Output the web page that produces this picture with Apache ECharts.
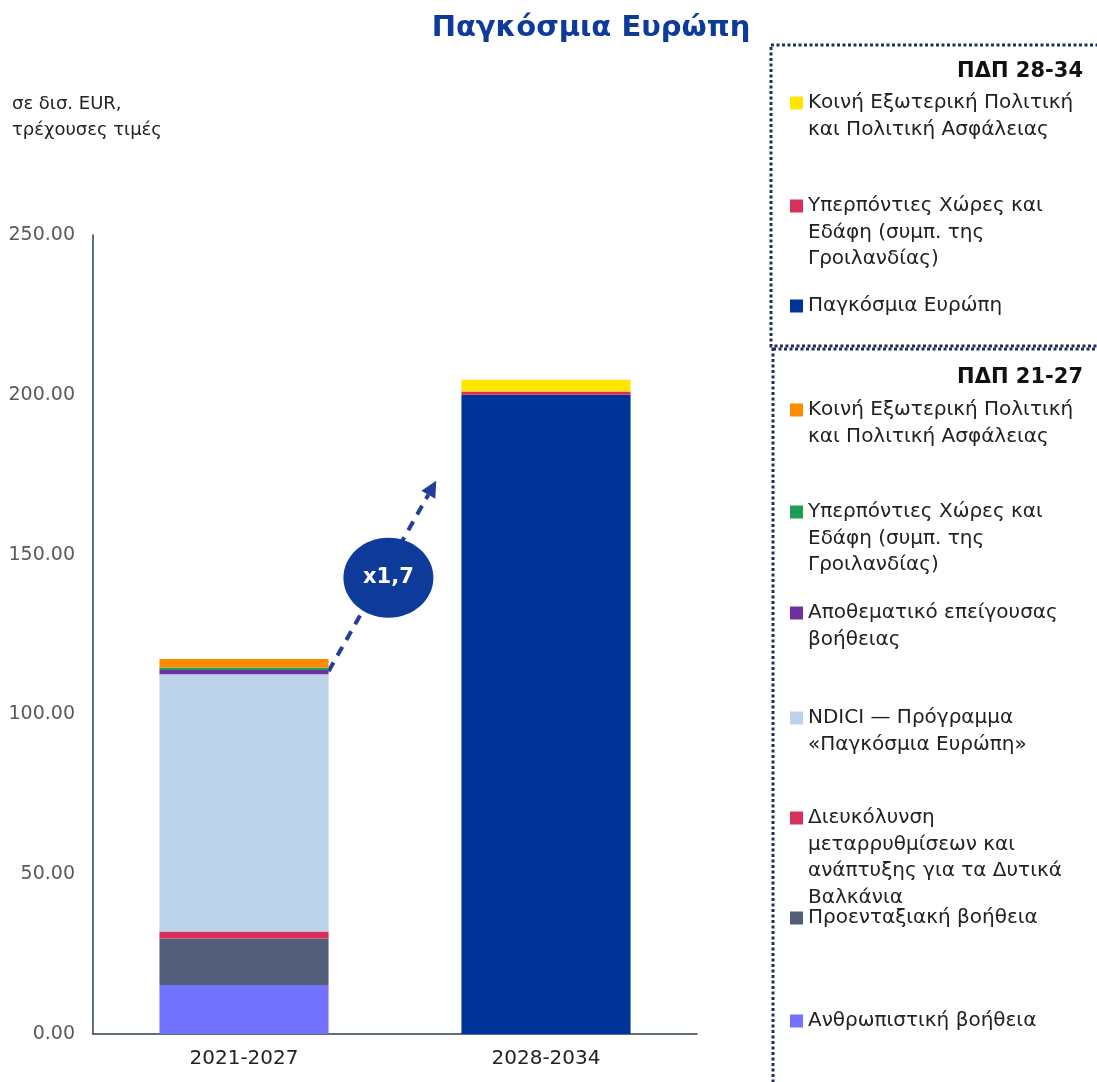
<!DOCTYPE html>
<html>
<head>
<meta charset="utf-8">
<script src="https://cdn.jsdelivr.net/npm/echarts@6/dist/echarts.min.js"></script>
<style>
html,body{margin:0;padding:0;background:#fff;}
#chart{width:1097px;height:1082px;}
</style>
</head>
<body>
<div id="chart"></div>
<script>
// ---- data ----
const categories = ['2021-2027', '2028-2034'];
const yTicks = [0, 50, 100, 150, 200, 250];

// MFF 2021-27 (stack bottom to top)
const humanitarian21 = [15.3, null];
const preAccession21 = [14.6, null];
const westernBalkans21 = [2.2, null];
const ndici21 = [80.5, null];
const emergencyReserve21 = [1.3, null];
const oct21 = [0.8, null];
const cfsp21 = [2.6, null];
// MFF 2028-34
const globalEurope28 = [null, 200.0];
const oct28 = [null, 1.0];
const cfsp28 = [null, 3.7];

const growthLabel = 'x1,7';

const seriesDefs = [
  {id: 'hum21',  data: humanitarian21,   color: '#7272FF', label: 'Ανθρωπιστική βοήθεια'},
  {id: 'pre21',  data: preAccession21,   color: '#535E78', label: 'Προενταξιακή βοήθεια'},
  {id: 'wb21',   data: westernBalkans21, color: '#D7305A', label: 'Διευκόλυνση\nμεταρρυθμίσεων και\nανάπτυξης για τα Δυτικά\nΒαλκάνια'},
  {id: 'ndici21',data: ndici21,          color: '#BDD3EA', label: 'NDICI — Πρόγραμμα\n«Παγκόσμια Ευρώπη»'},
  {id: 'esar21', data: emergencyReserve21,color: '#7030A0', label: 'Αποθεματικό επείγουσας\nβοήθειας'},
  {id: 'oct21',  data: oct21,            color: '#1E9E50', label: 'Υπερπόντιες Χώρες και\nΕδάφη (συμπ. της\nΓροιλανδίας)'},
  {id: 'cfsp21', data: cfsp21,           color: '#FF8C00', label: 'Κοινή Εξωτερική Πολιτική\nκαι Πολιτική Ασφάλειας'},
  {id: 'ge28',   data: globalEurope28,   color: '#003399', label: 'Παγκόσμια Ευρώπη'},
  {id: 'oct28',  data: oct28,            color: '#D7305A', label: 'Υπερπόντιες Χώρες και\nΕδάφη (συμπ. της\nΓροιλανδίας)'},
  {id: 'cfsp28', data: cfsp28,           color: '#FFE600', label: 'Κοινή Εξωτερική Πολιτική\nκαι Πολιτική Ασφάλειας'}
];

// legend first-line centre positions
const legendRows = {
  cfsp28: 103, oct28: 206, ge28: 306,
  cfsp21: 410, oct21: 512, esar21: 613, ndici21: 718, wb21: 818, pre21: 918, hum21: 1021
};

const FONT = 'DejaVu Sans';
const LH = 26.5;

const chart = echarts.init(document.getElementById('chart'), null, {renderer: 'canvas'});

const series = seriesDefs.map(d => ({
  type: 'bar',
  name: d.id,
  stack: 'total',
  barWidth: '56%',
  data: d.data,
  itemStyle: {color: d.color},
  emphasis: {disabled: true}
}));

const legends = seriesDefs.map(d => {
  const lines = d.label.split('\n');
  const n = lines.length;
  const padded = new Array(n - 1).fill('').concat(lines).join('\n');
  const h = (2 * n - 1) * LH;
  return {
    data: [d.id],
    left: 790,
    top: legendRows[d.id] - h / 2,
    orient: 'vertical',
    padding: 0,
    icon: 'rect',
    itemWidth: 13,
    itemHeight: 13,
    selectedMode: false,
    formatter: () => padded,
    textStyle: {fontFamily: FONT, fontSize: 20, color: '#222', lineHeight: LH}
  };
});

chart.setOption({
  animation: false,
  backgroundColor: '#fff',
  grid: {left: 93, right: 400, top: 235, bottom: 48, containLabel: false},
  legend: legends,
  xAxis: {
    type: 'category',
    data: categories,
    axisLine: {lineStyle: {color: '#2E4057', width: 1.5}},
    axisTick: {show: false},
    axisLabel: {fontFamily: FONT, fontSize: 20, color: '#222', margin: 15}
  },
  yAxis: {
    type: 'value',
    min: yTicks[0],
    max: yTicks[yTicks.length - 1],
    interval: yTicks[1] - yTicks[0],
    splitLine: {show: false},
    axisLine: {show: true, lineStyle: {color: '#2E4057', width: 1.5}},
    axisTick: {show: false},
    axisLabel: {fontFamily: FONT, fontSize: 19, color: '#595959', margin: 18,
      formatter: v => v.toFixed(2)}
  },
  series: series
});

// annotations derived from the chart scales
const p0 = chart.convertToPixel({gridIndex: 0}, [categories[0], 113.5]);
const pEnd = chart.convertToPixel({gridIndex: 0}, [categories[0], 172]);
const bandW = chart.convertToPixel({gridIndex: 0}, [categories[1], 0])[0] - p0[0];
const sx = p0[0] + bandW * 0.28, sy = p0[1];
const ex = p0[0] + bandW * 0.63, ey = pEnd[1];
const ang = Math.atan2(ey - sy, ex - sx);
const ah = 16, aw = 8;
const tip = [ex + Math.cos(ang) * 4, ey + Math.sin(ang) * 4];
const base = [tip[0] - Math.cos(ang) * ah, tip[1] - Math.sin(ang) * ah];
const px = -Math.sin(ang), py = Math.cos(ang);
const cx = (sx + ex) / 2 + 7, cy = (sy + ey) / 2;

chart.setOption({
  graphic: [
    {type: 'text', x: 591, y: 28, style: {text: 'Παγκόσμια Ευρώπη', font: 'bold 29px "' + FONT + '"', fill: '#0E3A9A', align: 'center', verticalAlign: 'middle'}},
    {type: 'text', x: 12, y: 91, style: {text: 'σε δισ. EUR,\nτρέχουσες τιμές', font: '18px "' + FONT + '"', fill: '#222', lineHeight: 26}},
    {type: 'line', shape: {x1: sx, y1: sy, x2: base[0], y2: base[1]}, style: {stroke: '#1F3F99', lineWidth: 4, lineDash: [10, 8]}},
    {type: 'polygon', shape: {points: [tip, [base[0] + px * aw, base[1] + py * aw], [base[0] - px * aw, base[1] - py * aw]]}, style: {fill: '#1F3F99'}},
    {type: 'ellipse', shape: {cx: cx, cy: cy, rx: 45, ry: 40}, style: {fill: '#0E3A9A'}},
    {type: 'text', x: cx, y: cy, style: {text: growthLabel, font: 'bold 21px "' + FONT + '"', fill: '#fff', align: 'center', verticalAlign: 'middle'}},
    {type: 'rect', shape: {x: 771, y: 45, width: 400, height: 301}, style: {fill: 'none', stroke: '#1F2D5A', lineWidth: 3, lineDash: [3, 2.5]}},
    {type: 'rect', shape: {x: 773, y: 349, width: 400, height: 800}, style: {fill: 'none', stroke: '#1F2D5A', lineWidth: 3, lineDash: [3, 2.5]}},
    {type: 'text', x: 1083, y: 72, style: {text: 'ΠΔΠ 28-34', font: 'bold 21px "' + FONT + '"', fill: '#111', align: 'right', verticalAlign: 'middle'}},
    {type: 'text', x: 1083, y: 378, style: {text: 'ΠΔΠ 21-27', font: 'bold 21px "' + FONT + '"', fill: '#111', align: 'right', verticalAlign: 'middle'}}
  ]
});
</script>
</body>
</html>
